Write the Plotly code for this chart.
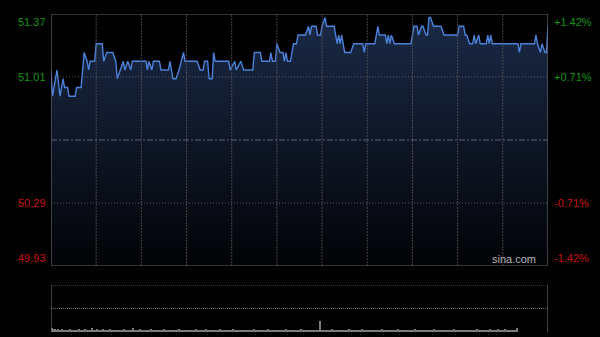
import plotly.graph_objects as go

# ---- data ----
prev_close = 50.65
y_min, y_max = 49.93, 51.37
left_labels = ["51.37", "51.01", "50.29", "49.93"]
left_vals = [51.37, 51.01, 50.29, 49.93]
right_labels = ["+1.42%", "+0.71%", "-0.71%", "-1.42%"]

minutes = [0, 1, 4, 6, 8, 9, 11, 12, 16, 17, 20, 22, 24, 25, 26, 29, 30, 34, 35, 37,
           41, 43, 44, 46, 48, 49, 51, 53, 54, 63, 64, 65, 67, 68, 72, 73, 78, 79, 80, 81,
           83, 85, 88, 89, 97, 99, 101, 102, 104, 105, 107, 108, 109, 118, 119, 122, 123, 126, 128, 134,
           135, 139, 140, 145, 146, 147, 149, 150, 152, 154, 155, 156, 157, 159, 161, 163, 164, 169, 171, 172,
           173, 176, 177, 179, 180, 182, 183, 188, 190, 191, 192, 193, 195, 199, 201, 207, 208, 209, 215, 217,
           218, 222, 223, 224, 225, 226, 228, 239, 241, 243, 244, 246, 247, 249, 250, 251, 252, 254, 259, 261,
           270, 271, 274, 275, 276, 278, 280, 281, 282, 284, 285, 289, 290, 291, 292, 293, 310, 311, 312, 321,
           322, 323, 325, 326, 328, 329, 330]
prices = [51.05, 50.90, 51.05, 50.90, 51.00, 50.95, 50.95, 50.90, 50.90, 50.95, 50.95, 51.15, 51.10, 51.05, 51.10, 51.10, 51.20, 51.20, 51.10, 51.15,
          51.15, 51.10, 51.00, 51.05, 51.10, 51.05, 51.10, 51.05, 51.10, 51.10, 51.05, 51.10, 51.05, 51.10, 51.10, 51.05, 51.05, 51.10, 51.05, 51.00,
          51.00, 51.05, 51.15, 51.10, 51.10, 51.05, 51.05, 51.10, 51.10, 51.00, 51.00, 51.15, 51.10, 51.10, 51.05, 51.10, 51.05, 51.10, 51.05, 51.05,
          51.15, 51.15, 51.10, 51.10, 51.15, 51.10, 51.10, 51.20, 51.15, 51.15, 51.10, 51.15, 51.10, 51.10, 51.20, 51.20, 51.25, 51.25, 51.30, 51.25,
          51.30, 51.30, 51.25, 51.25, 51.30, 51.35, 51.30, 51.30, 51.20, 51.25, 51.20, 51.25, 51.15, 51.15, 51.20, 51.20, 51.15, 51.20, 51.20, 51.30,
          51.25, 51.25, 51.20, 51.25, 51.20, 51.25, 51.20, 51.20, 51.30, 51.30, 51.25, 51.30, 51.30, 51.25, 51.25, 51.35, 51.35, 51.30, 51.30, 51.25,
          51.25, 51.30, 51.30, 51.25, 51.25, 51.20, 51.20, 51.25, 51.20, 51.25, 51.20, 51.20, 51.25, 51.20, 51.25, 51.20, 51.20, 51.15, 51.20, 51.20,
          51.25, 51.20, 51.15, 51.20, 51.15, 51.15, 51.30]

volume = [
    4, 3, 3, 2, 3, 2, 2, 3, 2, 2, 2, 2, 3, 2, 2, 2, 2, 2, 3, 2, 2, 2, 3, 2, 2, 2, 2, 4, 2, 2,
    3, 2, 2, 2, 3, 2, 2, 2, 2, 3, 2, 2, 2, 2, 2, 2, 2, 2, 3, 2, 2, 2, 2, 2, 4, 2, 2, 2, 2, 3,
    2, 2, 2, 2, 2, 2, 3, 2, 2, 2, 2, 2, 2, 2, 2, 3, 2, 2, 2, 2, 2, 2, 2, 2, 2, 3, 2, 2, 2, 2,
    2, 2, 2, 2, 2, 2, 3, 2, 2, 2, 2, 2, 2, 3, 2, 2, 2, 2, 2, 2, 2, 2, 3, 2, 2, 2, 2, 2, 2, 2,
    2, 3, 2, 2, 2, 2, 2, 2, 2, 2, 2, 2, 2, 2, 2, 3, 2, 2, 2, 2, 2, 2, 2, 2, 3, 2, 2, 2, 2, 2,
    2, 2, 2, 2, 2, 2, 3, 2, 2, 2, 2, 2, 2, 2, 2, 2, 3, 2, 2, 2, 2, 2, 2, 2, 2, 2, 2, 2, 2, 12,
    2, 2, 2, 2, 2, 2, 2, 3, 2, 2, 2, 2, 2, 2, 2, 2, 2, 2, 3, 2, 2, 2, 2, 2, 2, 2, 2, 3, 2, 2,
    2, 2, 2, 2, 2, 2, 2, 2, 2, 2, 3, 2, 2, 2, 2, 2, 2, 2, 2, 2, 2, 3, 2, 2, 2, 2, 2, 2, 2, 2,
    2, 2, 3, 2, 2, 2, 2, 2, 2, 2, 2, 2, 2, 2, 2, 3, 2, 2, 2, 2, 2, 2, 2, 2, 2, 2, 2, 2, 3, 2,
    2, 2, 2, 2, 2, 2, 2, 2, 2, 2, 2, 2, 2, 3, 2, 2, 2, 2, 2, 2, 2, 2, 3, 2, 2, 2, 2, 3, 2, 2,
    2, 2, 3, 2, 2, 2, 2, 2, 2, 2, 4,
]
vol_minutes = list(range(len(volume)))
vol_max = 50
time_grid = [30, 60, 90, 120, 150, 180, 210, 240, 270, 300]

GREEN = "#0f960f"
RED = "#cc1010"

fig = go.Figure()

fig.add_trace(go.Scatter(
    x=minutes, y=prices, mode="lines",
    line=dict(color="#4a82dc", width=1.4),
    fill="tozeroy",
    fillgradient=dict(type="vertical", start=y_min, stop=y_max,
                      colorscale=[[0, "rgba(2,3,6,1)"], [1, "rgba(27,42,72,1)"]]),
    xaxis="x", yaxis="y", hoverinfo="skip", showlegend=False,
))

fig.add_trace(go.Bar(
    x=vol_minutes, y=volume, width=0.9,
    marker=dict(color="#7c7c7c", line=dict(width=0)),
    xaxis="x2", yaxis="y2", hoverinfo="skip", showlegend=False,
))

W, H = 600, 337
ml, mr, mt, mb = 51, 52, 14, 5
plot_h = H - mt - mb
main_bottom_px = 266
vol_top_px = 285
dom_main = [(H - mb - main_bottom_px) / plot_h, 1]
dom_vol = [0, (H - mb - vol_top_px) / plot_h]

fig.update_layout(
    width=W, height=H,
    margin=dict(l=ml, r=mr, t=mt, b=mb, pad=0),
    paper_bgcolor="#000000", plot_bgcolor="rgba(0,0,0,0)",
    xaxis=dict(range=[0, 330], showticklabels=False, ticks="", zeroline=False,
               showgrid=False, showline=False),
    yaxis=dict(domain=dom_main, range=[y_min, y_max], showticklabels=False, ticks="",
               showgrid=False, zeroline=False, showline=False),
    xaxis2=dict(range=[-0.5, 330.5], anchor="y2", showticklabels=False, ticks="", zeroline=False,
                showgrid=False, showline=False),
    yaxis2=dict(domain=dom_vol, range=[0, vol_max], anchor="x2", showticklabels=False, ticks="",
                showgrid=False, zeroline=False, showline=False),
    bargap=0,
)

shapes = []
# vertical time grid (drawn over the fill)
for t in time_grid:
    shapes.append(dict(type="line", xref="x", yref="y", x0=t, x1=t, y0=y_min, y1=y_max, layer="above",
                       line=dict(color="rgba(90,90,90,0.75)", width=1, dash="2px,1px")))
# horizontal grid lines in main panel
for v in [51.01, 50.29]:
    shapes.append(dict(type="line", xref="x", yref="y", x0=0, x1=330, y0=v, y1=v, layer="above",
                       line=dict(color="rgba(110,110,110,0.8)", width=1, dash="1px,2px")))
shapes.append(dict(type="line", xref="x", yref="y", x0=0, x1=330, y0=prev_close, y1=prev_close, layer="above",
                   line=dict(color="#5a6474", width=1, dash="6px,2px,2px,2px")))
# main panel frame
shapes.append(dict(type="rect", xref="x", yref="y", x0=0, x1=330, y0=y_min, y1=y_max, layer="above",
                   line=dict(color="#666666", width=1.2), fillcolor="rgba(0,0,0,0)"))
# volume panel frame
shapes.append(dict(type="line", xref="x", yref="y2", x0=0, x1=0, y0=0, y1=vol_max,
                   line=dict(color="#666666", width=1.2)))
shapes.append(dict(type="line", xref="x", yref="y2", x0=330, x1=330, y0=0, y1=vol_max,
                   line=dict(color="#666666", width=1.2)))
for v in [vol_max, vol_max / 2]:
    shapes.append(dict(type="line", xref="x", yref="y2", x0=0, x1=330, y0=v, y1=v,
                       line=dict(color="#777777", width=1, dash="1px,1px")))
fig.update_layout(shapes=shapes)

annotations = []
anchors = ["top", "middle", "middle", "bottom"]
for lab, v, ra, anc in zip(left_labels, left_vals, right_labels, anchors):
    col = GREEN if v > prev_close else RED
    annotations.append(dict(xref="paper", yref="y", x=0, y=v, text=lab, showarrow=False,
                            xanchor="right", yanchor=anc, xshift=-3,
                            font=dict(family="Arial, Liberation Sans", size=11, color=col)))
    annotations.append(dict(xref="paper", yref="y", x=1, y=v, text=ra, showarrow=False,
                            xanchor="left", yanchor=anc, xshift=4,
                            font=dict(family="Arial, Liberation Sans", size=11, color=col)))
annotations.append(dict(xref="paper", yref="y", x=1, y=y_min, text="sina.com", showarrow=False,
                        xanchor="right", yanchor="bottom", xshift=-10, yshift=-1,
                        font=dict(family="Arial, Liberation Sans", size=11, color="#b4b4b4")))
fig.update_layout(annotations=annotations)

fig.write_html("out.html")
